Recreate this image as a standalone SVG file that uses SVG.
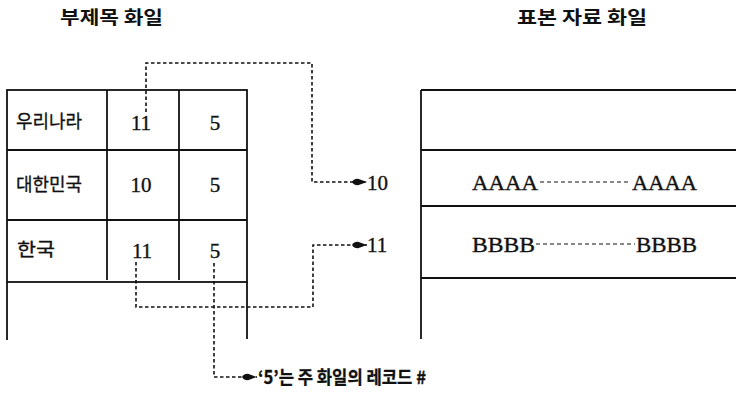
<svg xmlns="http://www.w3.org/2000/svg" width="736" height="397" viewBox="0 0 736 397">
  <style>
    .tbl { fill: none; stroke: #111; stroke-width: 1.8; }
    .ko { font-family: "Noto Sans CJK KR", "Noto Sans", sans-serif; fill: #111; stroke: #111; stroke-width: 0.3; }
    .ttl { font-family: "Noto Sans CJK KR", sans-serif; font-size: 18px; font-weight: bold; fill: #111; }
    .num { font-family: "Liberation Serif", serif; font-size: 21px; fill: #111; stroke: #111; stroke-width: 0.35; }
    .conn { fill: none; stroke: #111; stroke-width: 1.6; stroke-dasharray: 3.5 2.5; }
    .dots { fill: none; stroke: #111; stroke-width: 1; stroke-dasharray: 4 3; }
  </style>
  <defs>
    <marker id="arr" markerUnits="userSpaceOnUse" markerWidth="16" markerHeight="10" refX="15" refY="5" orient="auto">
      <path d="M0,5 Q2,1.6 6,1.8 L15,5 L6,8.2 Q2,8.4 0,5 Z" fill="#111"/>
    </marker>
  </defs>
  <rect width="736" height="397" fill="#fff"/>

  <g id="title-left">
    <text class="ttl" x="60" y="24" textLength="103" lengthAdjust="spacingAndGlyphs">부제목 화일</text>
  </g>
  <g id="title-right">
    <text class="ttl" x="517" y="24" textLength="130" lengthAdjust="spacingAndGlyphs">표본 자료 화일</text>
  </g>

  <g id="left-table">
    <rect class="tbl" x="7" y="90" width="240" height="192"/>
    <line class="tbl" x1="7" y1="150" x2="247" y2="150"/>
    <line class="tbl" x1="7" y1="220" x2="247" y2="220"/>
    <line class="tbl" x1="107" y1="90" x2="107" y2="280"/>
    <line class="tbl" x1="179" y1="90" x2="179" y2="280"/>
    <line class="tbl" x1="7" y1="282" x2="7" y2="340"/>
    <line class="tbl" x1="247" y1="282" x2="247" y2="339"/>
    <text class="ko" x="16" y="128" font-size="18" textLength="66" lengthAdjust="spacingAndGlyphs">우리나라</text>
    <text class="num" x="141" y="130" text-anchor="middle">11</text>
    <text class="num" x="215" y="130" text-anchor="middle">5</text>
    <text class="ko" x="16" y="191" font-size="18" textLength="66" lengthAdjust="spacingAndGlyphs">대한민국</text>
    <text class="num" x="141" y="192" text-anchor="middle">10</text>
    <text class="num" x="215" y="192" text-anchor="middle">5</text>
    <text class="ko" x="17" y="256" font-size="18" textLength="38" lengthAdjust="spacingAndGlyphs">한국</text>
    <text class="num" x="142" y="258" text-anchor="middle">11</text>
    <text class="num" x="215" y="258" text-anchor="middle">5</text>
  </g>

  <g id="right-table">
    <line class="tbl" x1="421" y1="90" x2="736" y2="90"/>
    <line class="tbl" x1="421" y1="150" x2="736" y2="150"/>
    <line class="tbl" x1="421" y1="206" x2="736" y2="206"/>
    <line class="tbl" x1="421" y1="278" x2="736" y2="278"/>
    <line class="tbl" x1="421" y1="90" x2="421" y2="339"/>
    <text class="num" x="472" y="190" textLength="66" lengthAdjust="spacingAndGlyphs">AAAA</text>
    <line class="dots" x1="540" y1="182" x2="631" y2="182"/>
    <text class="num" x="632" y="190" textLength="65" lengthAdjust="spacingAndGlyphs">AAAA</text>
    <text class="num" x="472" y="252" textLength="63" lengthAdjust="spacingAndGlyphs">BBBB</text>
    <line class="dots" x1="536" y1="244" x2="635" y2="244"/>
    <text class="num" x="636" y="252" textLength="61" lengthAdjust="spacingAndGlyphs">BBBB</text>
  </g>

  <g id="connectors">
    <path class="conn" d="M146,112 V63 H312 V182 H367" marker-end="url(#arr)"/>
    <path class="conn" d="M136,262 V307 H313 V245 H367" marker-end="url(#arr)"/>
    <path class="conn" d="M214,263 V377 H257" marker-end="url(#arr)"/>
  </g>

  <g id="labels">
    <text class="num" x="367" y="190">10</text>
    <text class="num" x="367" y="252">11</text>
    <text class="ko" x="258" y="384" font-size="18" font-weight="bold" textLength="168" lengthAdjust="spacingAndGlyphs">‘5’는 주 화일의 레코드 #</text>
  </g>
</svg>
